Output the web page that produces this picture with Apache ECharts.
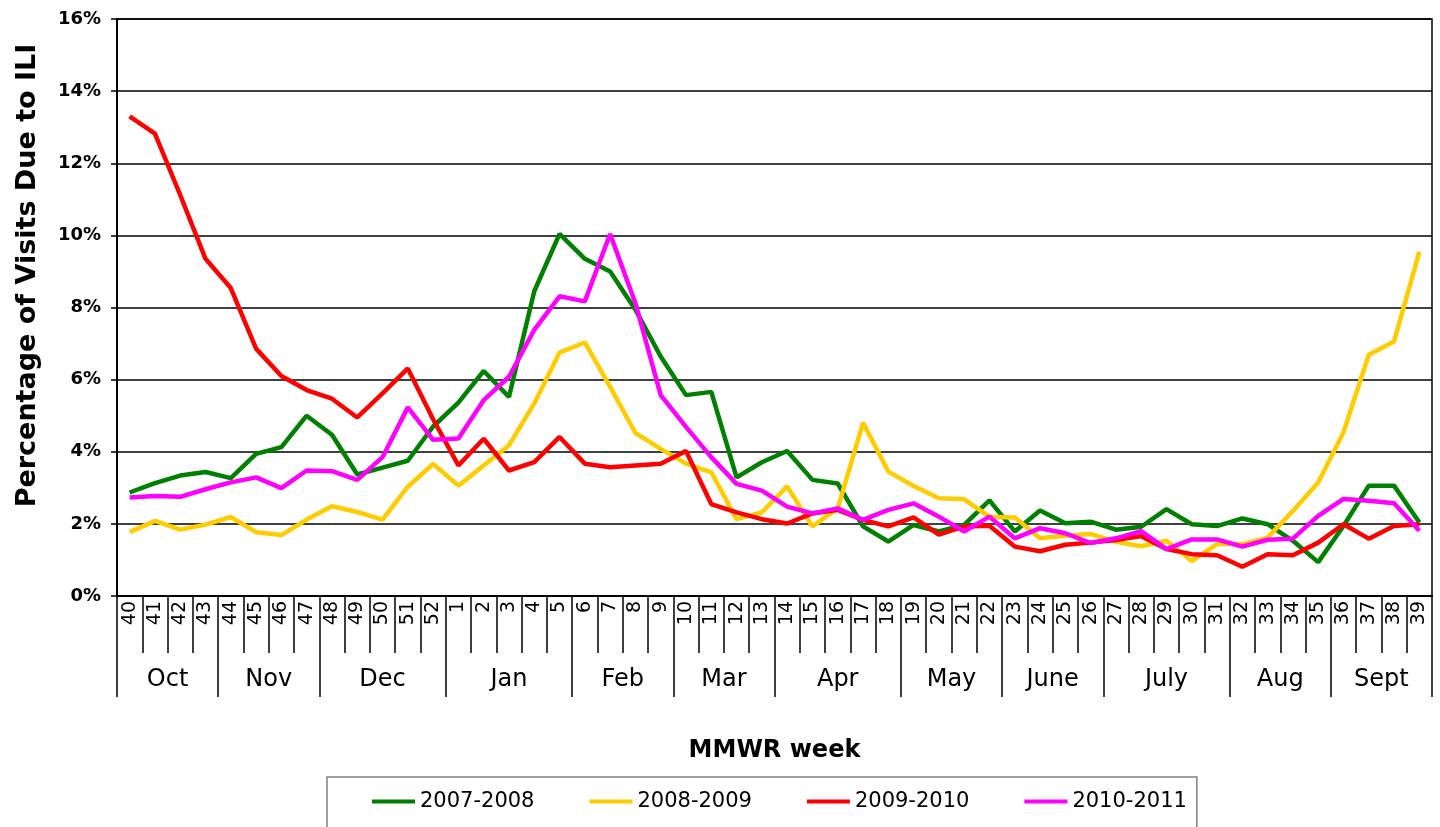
<!DOCTYPE html>
<html>
<head>
<meta charset="utf-8">
<script src="https://cdn.jsdelivr.net/npm/echarts@6/dist/echarts.min.js"></script>
<style>
html,body{margin:0;padding:0;background:#fff;}
#chart{width:1440px;height:827px;}
</style>
</head>
<body>
<div id="chart"></div>
<script>
// MMWR weeks (Oct .. Sept)
const weeks = ['40','41','42','43','44','45','46','47','48','49','50','51','52',
  '1','2','3','4','5','6','7','8','9','10','11','12','13',
  '14','15','16','17','18','19','20','21','22','23','24','25','26',
  '27','28','29','30','31','32','33','34','35','36','37','38','39'];

// Months and how many weeks each spans
const months = ['Oct','Nov','Dec','Jan','Feb','Mar','Apr','May','June','July','Aug','Sept'];
const monthWeeks = [4,4,5,5,4,4,5,4,4,5,4,4];

const yTicks = [0,2,4,6,8,10,12,14,16];

const s2007 = [2.87,3.13,3.34,3.44,3.27,3.94,4.13,5.0,4.47,3.37,3.56,3.75,4.7,
  5.36,6.24,5.52,8.45,10.04,9.35,9.0,7.94,6.64,5.57,5.66,3.29,3.71,
  4.02,3.22,3.12,1.93,1.51,1.97,1.79,1.97,2.65,1.79,2.37,2.02,2.06,
  1.84,1.92,2.41,1.99,1.94,2.15,1.99,1.53,0.94,1.94,3.06,3.06,2.04];
const s2008 = [1.77,2.08,1.84,1.98,2.19,1.77,1.69,2.12,2.49,2.33,2.12,3.03,3.66,
  3.06,3.62,4.18,5.34,6.75,7.03,5.8,4.52,4.08,3.67,3.43,2.13,2.32,
  3.04,1.93,2.43,4.8,3.45,3.05,2.71,2.68,2.2,2.18,1.6,1.67,1.72,
  1.5,1.38,1.53,0.97,1.44,1.44,1.62,2.36,3.15,4.54,6.69,7.06,9.54];
const s2009 = [13.3,12.82,11.12,9.35,8.54,6.86,6.1,5.71,5.47,4.95,5.62,6.31,4.9,
  3.62,4.36,3.48,3.71,4.41,3.67,3.57,3.62,3.67,4.02,2.55,2.32,2.13,
  2.01,2.29,2.39,2.11,1.93,2.18,1.7,1.93,1.95,1.37,1.24,1.42,1.48,
  1.55,1.66,1.3,1.16,1.13,0.81,1.16,1.13,1.48,1.99,1.59,1.94,1.99];
const s2010 = [2.73,2.77,2.75,2.96,3.15,3.29,2.99,3.48,3.46,3.22,3.85,5.23,4.33,
  4.37,5.43,6.08,7.38,8.31,8.17,10.04,8.12,5.57,4.69,3.85,3.11,2.92,
  2.48,2.29,2.43,2.11,2.39,2.57,2.2,1.79,2.2,1.6,1.88,1.74,1.47,
  1.6,1.8,1.3,1.57,1.57,1.37,1.56,1.59,2.22,2.69,2.64,2.57,1.81];

const seriesNames = ['2007-2008','2008-2009','2009-2010','2010-2011'];
const seriesData = [s2007, s2008, s2009, s2010];
const colors = ['#008000','#FFCC00','#FF0000','#FF00FF'];

// month boundaries and centers (in week units) derived from monthWeeks
const monthBounds = [0];
const monthCenters = [];
monthWeeks.forEach(function(n){
  const start = monthBounds[monthBounds.length-1];
  monthCenters.push(start + n/2);
  monthBounds.push(start + n);
});

const FONT = 'DejaVu Sans';
const chart = echarts.init(document.getElementById('chart'));
chart.setOption({
  animation: false,
  backgroundColor: '#fff',
  color: colors,
  grid: {left:117, right:8, top:19, bottom:231, show:true, borderColor:'#000', borderWidth:1.5, containLabel:false},
  legend: {
    left: 327, top: 777,
    padding: [14, 10, 30, 45],
    borderColor: '#808080', borderWidth: 1.5,
    icon: 'rect', itemWidth: 43, itemHeight: 4, itemGap: 55,
    textStyle: {fontFamily: FONT, fontSize: 21, color: '#000'},
    data: seriesNames
  },
  xAxis: [
    {
      type: 'category', data: weeks, boundaryGap: true, gridIndex: 0,
      axisLine: {show:true, lineStyle:{color:'#000', width:2}},
      axisTick: {show:true, interval:0, length:57, lineStyle:{color:'#000', width:1.5}},
      axisLabel: {interval:0, rotate:90, margin:5, fontFamily: FONT, fontSize:19, color:'#000'},
      splitLine: {show:false},
      name: 'MMWR week', nameLocation: 'middle', nameGap: 143,
      nameTextStyle: {fontFamily: FONT, fontWeight:'bold', fontSize:24, color:'#000'}
    },
    {
      type: 'value', min: 0, max: weeks.length, gridIndex: 0, position: 'bottom',
      axisLine: {show:false},
      axisTick: {show:true, customValues: monthBounds, length:101, lineStyle:{color:'#000', width:1.5}},
      axisLabel: {show:true, customValues: monthCenters, margin:72, fontFamily: FONT, fontSize:24, color:'#000',
        formatter: function(v){ const i = monthCenters.indexOf(v); return i >= 0 ? months[i] : ''; }},
      splitLine: {show:false}
    }
  ],
  yAxis: {
    type: 'value', min: 0, max: 16, interval: 2,
    axisLine: {show:true, lineStyle:{color:'#000', width:2}},
    axisTick: {show:true, length:6, lineStyle:{color:'#000', width:1.5}},
    axisLabel: {margin:16, fontFamily: FONT, fontWeight:'bold', fontSize:18, color:'#000',
      formatter: function(v){ return yTicks.indexOf(v) >= 0 ? v + '%' : ''; }},
    splitLine: {show:true, lineStyle:{color:'#000', width:1.5}},
    name: 'Percentage of Visits Due to ILI', nameLocation: 'middle', nameRotate: 90, nameGap: 76,
    nameTextStyle: {fontFamily: FONT, fontWeight:'bold', fontSize:27, color:'#000', padding:[0,0,0,64]}
  },
  series: seriesNames.map(function(name, i){
    return {
      name: name, type: 'line', xAxisIndex: 0, yAxisIndex: 0,
      data: seriesData[i], symbol: 'none', smooth: false,
      lineStyle: {width: 4.5, color: colors[i]},
      itemStyle: {color: colors[i]}
    };
  })
});
</script>
</body>
</html>
